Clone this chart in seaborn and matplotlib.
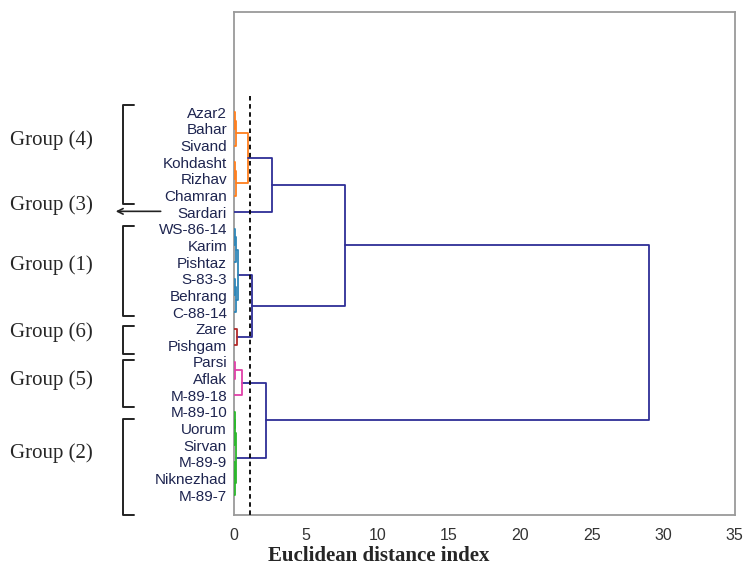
import numpy as np
import pandas as pd
import matplotlib.pyplot as plt
from matplotlib.transforms import blended_transform_factory
import seaborn as sns

# leaves from top to bottom
leaves = ["Azar2", "Bahar", "Sivand", "Kohdasht", "Rizhav", "Chamran", "Sardari",
          "WS-86-14", "Karim", "Pishtaz", "S-83-3", "Behrang", "C-88-14",
          "Zare", "Pishgam", "Parsi", "Aflak", "M-89-18", "M-89-10",
          "Uorum", "Sirvan", "M-89-9", "Niknezhad", "M-89-7"]

# linkage: (child a, child b, height, colour) ; new nodes numbered from 24
merge_a = [0, 24, 3, 26, 25, 28, 7, 30, 10, 32, 31, 13, 34, 29, 15, 38, 18, 40, 21, 42, 41, 39, 37]
merge_b = [1, 2, 4, 5, 27, 6, 8, 9, 11, 12, 33, 14, 35, 36, 16, 17, 19, 20, 22, 23, 43, 44, 45]
merge_h = [0.08, 0.12, 0.08, 0.12, 0.95, 2.66, 0.08, 0.12, 0.08, 0.12, 0.30, 0.22, 1.26, 7.76,
           0.10, 0.56, 0.06, 0.09, 0.06, 0.09, 0.11, 2.24, 29.0]
merge_c = ["orange", "orange", "orange", "orange", "orange", "navy",
           "blue", "blue", "blue", "blue", "blue", "red", "navy", "navy",
           "pink", "pink", "green", "green", "green", "green", "green", "navy", "navy"]

cut_height = 1.1

group_names = ["Group (4)", "Group (3)", "Group (1)", "Group (6)", "Group (5)", "Group (2)"]
group_label_y = [1.68, 5.6, 9.2, 13.2, 16.1, 20.5]
bracket_spans = [(-0.42, 5.5), None, (6.85, 12.25), (12.85, 14.5), (14.9, 17.7), (18.45, 24.2)]

palette = {"orange": "#ff7f1e", "navy": "#2e2e96", "blue": "#2e86b8",
           "red": "#b22a2a", "pink": "#e040a8", "green": "#2cb82c"}

# build dendrogram segments
n = len(leaves)
pos = {i: float(i) for i in range(n)}
hgt = {i: 0.0 for i in range(n)}
rows = []
for k, (a, b, h, c) in enumerate(zip(merge_a, merge_b, merge_h, merge_c)):
    node = n + k
    pts = [(hgt[a], pos[a]), (h, pos[a]), (h, pos[b]), (hgt[b], pos[b])]
    for j, (x, y) in enumerate(pts):
        rows.append({"dist": x, "leaf": y, "link": k, "order": j, "col": c})
    pos[node] = (pos[a] + pos[b]) / 2
    hgt[node] = h
df = pd.DataFrame(rows)

sns.set_style("white")
plt.rcParams["font.family"] = ["Liberation Sans", "DejaVu Sans"]

fig = plt.figure(figsize=(7.43, 5.68), dpi=100)
ax = fig.add_axes([0.315, 0.0933, 0.674, 0.8847])

sns.lineplot(data=df, x="dist", y="leaf", units="link", estimator=None, sort=False,
             hue="col", palette=palette, legend=False, lw=1.3, zorder=3, ax=ax)

ax.vlines(cut_height, -1.0, 24.2, colors="black", linestyles=(0, (2.5, 2)), lw=1.3, zorder=4)

ax.set_xlim(0, 35)
ax.set_ylim(24.2, -6.0)
ax.set_xticks(np.arange(0, 36, 5))
ax.set_yticks(range(n))
ax.set_yticklabels(leaves)
ax.tick_params(axis="y", length=0, pad=5, labelsize=11, labelcolor="#1e2550")
ax.tick_params(axis="x", direction="inout", length=6, width=1, color="#999999",
               pad=6, labelsize=11.5, labelcolor="#333333")
ax.set_xlabel("")
ax.set_ylabel("")
for sp in ax.spines.values():
    sp.set_visible(True)
    sp.set_color("#9a9a9a")
    sp.set_linewidth(1.3)

fig.text(0.51, 0.003, "Euclidean distance index", family="Liberation Serif",
         fontweight="bold", fontsize=15, ha="center", va="bottom")

# group labels and brackets on the left
tr = blended_transform_factory(fig.transFigure, ax.transData)
for name, ly, span in zip(group_names, group_label_y, bracket_spans):
    ax.text(0.0135, ly, name, transform=tr, family="Liberation Serif", fontsize=15,
            va="center", ha="left", clip_on=False)
    if span is not None:
        y0, y1 = span
        ax.plot([0.181, 0.166, 0.166, 0.181], [y0, y0, y1, y1], transform=tr,
                color="#222222", lw=1.4, clip_on=False)
    else:
        ax.annotate("", xy=(0.152, 5.95), xytext=(0.22, 5.95), xycoords=tr, textcoords=tr,
                    arrowprops=dict(arrowstyle="->", color="#222222", lw=1.2), annotation_clip=False)

fig.savefig("out.png", dpi=100)
